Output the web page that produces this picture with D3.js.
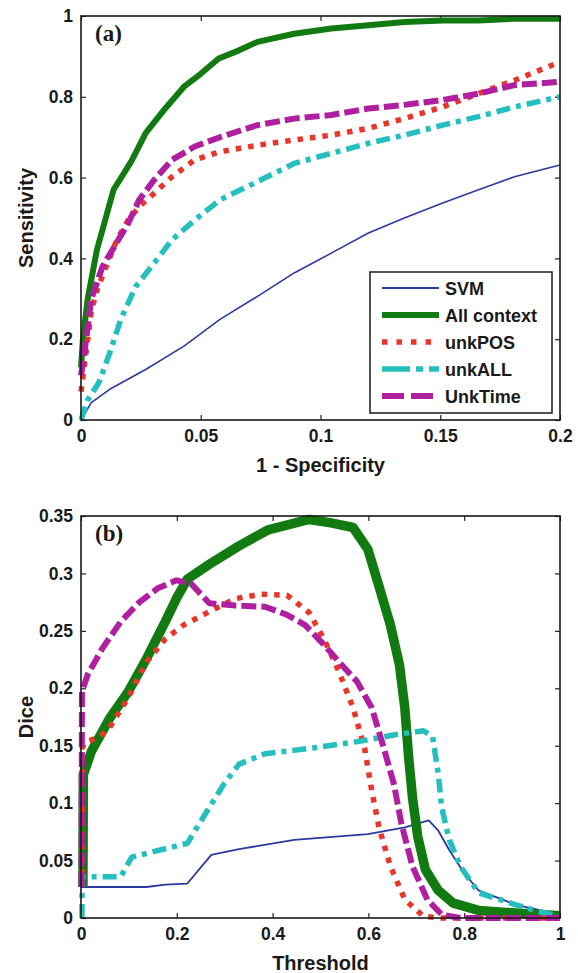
<!DOCTYPE html>
<html>
<head>
<meta charset="utf-8">
<script src="https://cdn.jsdelivr.net/npm/d3@7"></script>
<style>
  html, body { margin: 0; padding: 0; background: #fff; }
  svg { display: block; }
</style>
</head>
<body>
<svg id="chart" width="578" height="973"></svg>
<script>
// ---------- DATA ----------
const seriesNames = ["SVM", "All context", "unkPOS", "unkALL", "UnkTime"];

// Panel (a): ROC curves, [1 - specificity, sensitivity]
const rocSVM = [[0,0],[0.0043,0.043],[0.012,0.076],[0.027,0.125],[0.043,0.183],[0.058,0.249],[0.0737,0.306],[0.089,0.364],[0.1045,0.413],[0.12,0.463],[0.135,0.5],[0.151,0.537],[0.166,0.57],[0.181,0.602],[0.2,0.631]];
const rocAllContext = [[0,0.13],[0.0008,0.2],[0.0028,0.3],[0.0066,0.42],[0.0136,0.57],[0.021,0.64],[0.027,0.71],[0.035,0.77],[0.043,0.825],[0.05,0.857],[0.0575,0.895],[0.066,0.915],[0.0737,0.936],[0.089,0.956],[0.1045,0.969],[0.12,0.977],[0.135,0.985],[0.151,0.989],[0.166,0.989],[0.18,0.993],[0.2,0.993]];
const rocUnkPOS = [[0,0.07],[0.0015,0.14],[0.0043,0.27],[0.0066,0.32],[0.0105,0.38],[0.015,0.446],[0.0197,0.495],[0.0243,0.528],[0.0305,0.561],[0.038,0.602],[0.0475,0.644],[0.058,0.664],[0.0737,0.68],[0.089,0.693],[0.1045,0.705],[0.12,0.722],[0.135,0.746],[0.151,0.775],[0.166,0.808],[0.181,0.841],[0.2,0.886]];
const rocUnkALL = [[0,0],[0.0028,0.05],[0.0074,0.092],[0.012,0.166],[0.0166,0.249],[0.0228,0.33],[0.0305,0.388],[0.038,0.446],[0.0475,0.495],[0.058,0.545],[0.0737,0.59],[0.089,0.635],[0.1045,0.66],[0.12,0.685],[0.135,0.705],[0.151,0.73],[0.166,0.751],[0.181,0.775],[0.2,0.8]];
const rocUnkTime = [[0,0.11],[0.0015,0.17],[0.0043,0.3],[0.009,0.38],[0.015,0.44],[0.0197,0.487],[0.0243,0.545],[0.0305,0.594],[0.038,0.644],[0.0475,0.677],[0.058,0.7],[0.0737,0.73],[0.089,0.746],[0.1045,0.755],[0.12,0.771],[0.135,0.78],[0.151,0.792],[0.166,0.808],[0.181,0.829],[0.2,0.837]];

// Panel (b): Dice vs threshold, [threshold, dice]
const diceSVM = [[0,0.027],[0.137,0.027],[0.176,0.029],[0.222,0.03],[0.272,0.055],[0.33,0.06],[0.445,0.068],[0.599,0.073],[0.676,0.079],[0.726,0.085],[0.746,0.076],[0.769,0.059],[0.8,0.039],[0.83,0.024],[0.908,0.0115],[1,0.003]];
const diceAllContext = [[0.004,0.027],[0.005,0.125],[0.0216,0.145],[0.06,0.174],[0.0986,0.197],[0.137,0.226],[0.176,0.258],[0.199,0.278],[0.222,0.295],[0.268,0.308],[0.33,0.324],[0.391,0.338],[0.476,0.347],[0.522,0.344],[0.568,0.34],[0.599,0.321],[0.622,0.289],[0.646,0.255],[0.665,0.22],[0.676,0.183],[0.684,0.14],[0.692,0.105],[0.703,0.071],[0.719,0.042],[0.746,0.024],[0.777,0.013],[0.83,0.0066],[0.908,0.0043],[1,0.002]];
const diceUnkPOS = [[0.002,0.027],[0.003,0.15],[0.014,0.154],[0.037,0.157],[0.06,0.166],[0.0986,0.192],[0.137,0.223],[0.176,0.243],[0.214,0.255],[0.26,0.265],[0.322,0.278],[0.376,0.282],[0.43,0.281],[0.476,0.266],[0.507,0.243],[0.538,0.215],[0.568,0.183],[0.592,0.148],[0.607,0.111],[0.622,0.079],[0.646,0.045],[0.676,0.016],[0.715,0.0015],[0.753,0],[1,0]];
const diceUnkALL = [[0.002,0.0],[0.002,0.036],[0.083,0.036],[0.106,0.053],[0.153,0.058],[0.222,0.065],[0.26,0.091],[0.299,0.117],[0.33,0.134],[0.384,0.143],[0.484,0.148],[0.584,0.154],[0.661,0.16],[0.715,0.163],[0.734,0.158],[0.746,0.125],[0.753,0.096],[0.769,0.068],[0.792,0.045],[0.83,0.022],[0.908,0.0115],[0.954,0.0058],[1,0.0014]];
const diceUnkTime = [[0.001,0.027],[0.002,0.197],[0.014,0.212],[0.045,0.235],[0.083,0.258],[0.122,0.275],[0.16,0.287],[0.199,0.294],[0.23,0.291],[0.268,0.274],[0.322,0.272],[0.384,0.271],[0.43,0.264],[0.468,0.255],[0.507,0.238],[0.545,0.22],[0.576,0.206],[0.607,0.183],[0.63,0.151],[0.653,0.117],[0.669,0.082],[0.692,0.045],[0.723,0.016],[0.753,0.003],[0.792,0],[1,0]];

const rocXTicks = [0, 0.05, 0.1, 0.15, 0.2];
const rocYTicks = [0, 0.2, 0.4, 0.6, 0.8, 1];
const diceXTicks = [0, 0.2, 0.4, 0.6, 0.8, 1];
const diceYTicks = [0, 0.05, 0.1, 0.15, 0.2, 0.25, 0.3, 0.35];

// ---------- STYLES ----------
const styles = {
  "SVM":         { color: "#2b3a9e", dash: null },
  "All context": { color: "#117a11", dash: null },
  "unkPOS":      { color: "#e8362a", dash: "5.5,7" },
  "unkALL":      { color: "#26bfbf", dash: "14,6,5,6" },
  "UnkTime":     { color: "#b01fa0", dash: "15,5" }
};

const svg = d3.select("#chart");
const FONT = "'Liberation Sans', Arial, Helvetica, sans-serif";

function panel(opts) {
  const { left, right, top, bottom, xDomain, yDomain, xTicks, yTicks, series, widths, xLabel, yLabel, tag, fmtX, fmtY } = opts;
  const x = d3.scaleLinear().domain(xDomain).range([left, right]);
  const y = d3.scaleLinear().domain(yDomain).range([bottom, top]);
  const g = svg.append("g");

  const tickLen = 5;
  g.append("g").attr("transform", `translate(0,${bottom})`)
    .call(d3.axisBottom(x).tickValues(xTicks).tickFormat(fmtX).tickSizeInner(-tickLen).tickSizeOuter(0).tickPadding(10))
    .call(a => { a.select(".domain").remove(); });
  g.append("g").attr("transform", `translate(${left},0)`)
    .call(d3.axisLeft(y).tickValues(yTicks).tickFormat(fmtY).tickSizeInner(-tickLen).tickSizeOuter(0).tickPadding(8))
    .call(a => { a.select(".domain").remove(); });
  g.append("g").attr("transform", `translate(0,${top})`)
    .call(d3.axisTop(x).tickValues(xTicks).tickFormat("").tickSizeInner(-tickLen).tickSizeOuter(0))
    .call(a => { a.select(".domain").remove(); });
  g.append("g").attr("transform", `translate(${right},0)`)
    .call(d3.axisRight(y).tickValues(yTicks).tickFormat("").tickSizeInner(-tickLen).tickSizeOuter(0))
    .call(a => { a.select(".domain").remove(); });

  g.selectAll(".tick line").attr("stroke", "#222").attr("stroke-width", 1.2);
  g.selectAll(".tick text").attr("font-family", FONT).attr("font-weight", "bold").attr("font-size", 17.5).attr("fill", "#1a1a1a");

  const line = d3.line().x(d => x(d[0])).y(d => y(d[1]));
  series.forEach((s, i) => {
    const st = styles[s.name];
    g.append("path")
      .datum(s.data)
      .attr("d", line)
      .attr("fill", "none")
      .attr("stroke", st.color)
      .attr("stroke-width", widths[i])
      .attr("stroke-linejoin", "round")
      .attr("stroke-linecap", "butt")
      .attr("stroke-dasharray", st.dash);
  });

  g.append("rect").attr("x", left).attr("y", top).attr("width", right - left).attr("height", bottom - top)
    .attr("fill", "none").attr("stroke", "#1a1a1a").attr("stroke-width", 1.6);

  g.append("text").attr("x", (left + right) / 2).attr("y", bottom + 52).attr("text-anchor", "middle")
    .attr("font-family", FONT).attr("font-weight", "bold").attr("font-size", 20).attr("fill", "#1a1a1a").text(xLabel);
  g.append("text").attr("transform", `translate(33,${(top + bottom) / 2}) rotate(-90)`).attr("text-anchor", "middle")
    .attr("font-family", FONT).attr("font-weight", "bold").attr("font-size", 20).attr("fill", "#1a1a1a").text(yLabel);
  g.append("text").attr("x", left + 14).attr("y", top + 25)
    .attr("font-family", "'Liberation Serif', 'Times New Roman', serif").attr("font-weight", "bold").attr("font-size", 23)
    .attr("fill", "#1a1a1a").text(tag);
  return { g, x, y };
}

const fmtGeneral = d => (d === 0 ? "0" : d3.format("~g")(d));

panel({
  left: 81, right: 560, top: 16, bottom: 420,
  xDomain: [0, 0.2], yDomain: [0, 1],
  xTicks: rocXTicks, yTicks: rocYTicks,
  series: [
    { name: "SVM", data: rocSVM },
    { name: "All context", data: rocAllContext },
    { name: "unkPOS", data: rocUnkPOS },
    { name: "unkALL", data: rocUnkALL },
    { name: "UnkTime", data: rocUnkTime }
  ],
  widths: [1.6, 6, 5.5, 5.5, 6],
  xLabel: "1 - Specificity", yLabel: "Sensitivity", tag: "(a)",
  fmtX: fmtGeneral, fmtY: fmtGeneral
});

panel({
  left: 81, right: 560, top: 516, bottom: 918,
  xDomain: [0, 1], yDomain: [0, 0.35],
  xTicks: diceXTicks, yTicks: diceYTicks,
  series: [
    { name: "SVM", data: diceSVM },
    { name: "All context", data: diceAllContext },
    { name: "unkPOS", data: diceUnkPOS },
    { name: "unkALL", data: diceUnkALL },
    { name: "UnkTime", data: diceUnkTime }
  ],
  widths: [1.8, 9.5, 5.5, 5.5, 6],
  xLabel: "Threshold", yLabel: "Dice", tag: "(b)",
  fmtX: fmtGeneral, fmtY: fmtGeneral
});

// ---------- LEGEND (panel a) ----------
const legendWidths = [2, 6, 5.5, 5.5, 6];
const legendDash = { "unkPOS": "5.5,9", "unkALL": "28,6,7,6", "UnkTime": "22,7" };
const lg = svg.append("g");
lg.append("rect").attr("x", 370).attr("y", 272).attr("width", 182).attr("height", 141)
  .attr("fill", "#fff").attr("stroke", "#1a1a1a").attr("stroke-width", 1.5);
const legendY = d3.scalePoint().domain(seriesNames).range([288, 396]);
seriesNames.forEach((n, i) => {
  const st = styles[n];
  const yy = legendY(n);
  lg.append("line").attr("x1", 382).attr("x2", 439).attr("y1", yy).attr("y2", yy)
    .attr("stroke", st.color).attr("stroke-width", legendWidths[i])
    .attr("stroke-dasharray", legendDash[n] || null);
  lg.append("text").attr("x", 445).attr("y", yy + 6.5)
    .attr("font-family", FONT).attr("font-weight", "bold").attr("font-size", 18).attr("fill", "#1a1a1a").text(n);
});
</script>
</body>
</html>
